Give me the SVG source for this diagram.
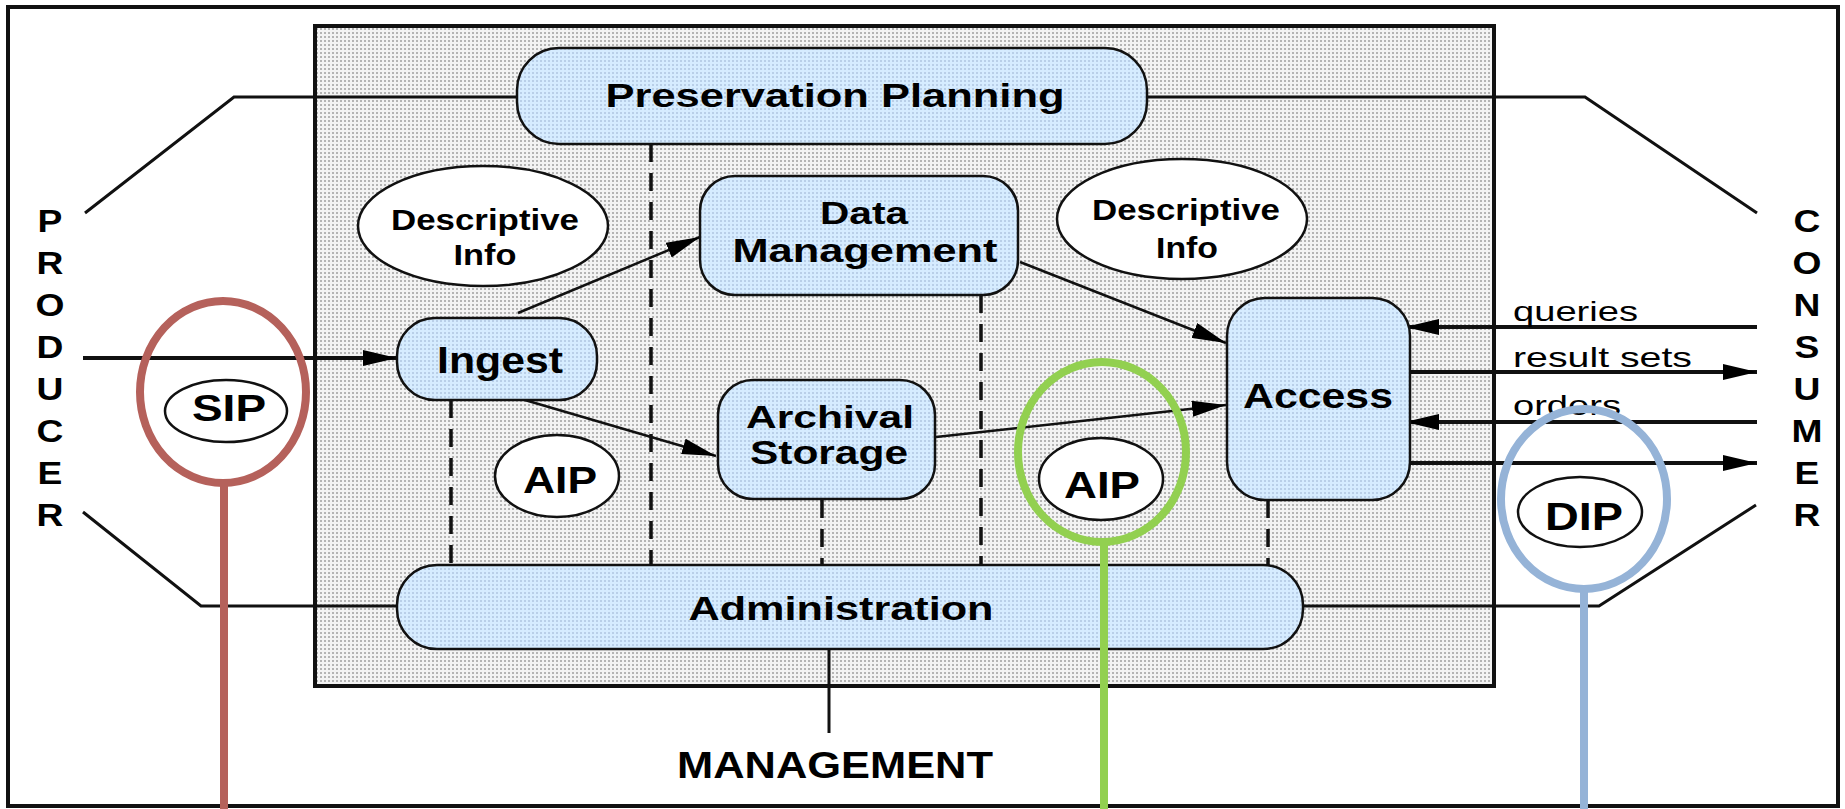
<svg xmlns="http://www.w3.org/2000/svg" width="1845" height="809" viewBox="0 0 1845 809">
  <defs>
    <pattern id="dots" width="4" height="4" patternUnits="userSpaceOnUse">
      <rect width="4" height="4" fill="#f3f3f3"/>
      <rect width="2" height="2" fill="#b4b4b4"/>
    </pattern>
    <pattern id="bdots" width="4" height="4" patternUnits="userSpaceOnUse">
      <rect width="4" height="4" fill="#d6ecff"/>
      <rect width="2" height="2" fill="#b9cfe8"/>
    </pattern>
    <marker id="ah" markerUnits="userSpaceOnUse" markerWidth="34" markerHeight="16" refX="34" refY="8" orient="auto" viewBox="0 0 34 16">
      <path d="M0,0 L34,8 L0,16 z" fill="#000"/>
    </marker>
    <style>
      text { font-family: "Liberation Sans", Arial, Helvetica, sans-serif; fill: #000; }
      .b { font-weight: bold; text-anchor: middle; }
      .lbl { font-weight: normal; font-size: 28px; }
      .side { font-weight: bold; font-size: 31px; text-anchor: middle; }
      .box { fill: url(#bdots); stroke: #111; stroke-width: 2.5; }
      .ell { fill: #fff; stroke: #111; stroke-width: 2.5; }
      .ln { fill: none; stroke: #111; stroke-width: 3; }
      .dash { fill: none; stroke: #111; stroke-width: 3.5; stroke-dasharray: 18 11; }
      .arr { fill: none; stroke: #111; stroke-width: 2.5; marker-end: url(#ah); }
      .arr4 { fill: none; stroke: #111; stroke-width: 4; marker-end: url(#ah); }
      .ring { fill: none; stroke-width: 8; }
    </style>
  </defs>

  <rect x="0" y="0" width="1845" height="809" fill="#fff"/>
  <rect id="frame" x="8" y="7" width="1830" height="799" fill="none" stroke="#111" stroke-width="4"/>
  <rect id="archive" x="315" y="26" width="1179" height="660" fill="url(#dots)" stroke="#111" stroke-width="4"/>

  <g id="connectors">
    <polyline class="ln" points="85,213 234,97 517,97"/>
    <polyline class="ln" points="1147,97 1585,97 1757,213"/>
    <polyline class="ln" points="83,512 201,606 397,606"/>
    <polyline class="ln" points="1303,606 1599,606 1756,505"/>
    <line class="ln" x1="829" y1="649" x2="829" y2="733" stroke-width="3.5"/>
    <line class="dash" x1="451" y1="400" x2="451" y2="565"/>
    <line class="dash" x1="651" y1="144" x2="651" y2="565"/>
    <line class="dash" x1="822" y1="500" x2="822" y2="565"/>
    <line class="dash" x1="981" y1="295" x2="981" y2="565"/>
    <line class="dash" x1="1268" y1="500" x2="1268" y2="565"/>
    <line class="arr4" x1="83" y1="358" x2="397" y2="358"/>
    <line class="arr" x1="518" y1="313" x2="700" y2="237"/>
    <line class="arr" x1="518" y1="398" x2="716" y2="456"/>
    <line class="arr" x1="1020" y1="262" x2="1226" y2="343"/>
    <line class="arr" x1="936" y1="437" x2="1226" y2="405"/>
    <line class="arr4" x1="1757" y1="327" x2="1405" y2="327"/>
    <line class="arr4" x1="1410" y1="372" x2="1757" y2="372"/>
    <line class="arr4" x1="1757" y1="422" x2="1405" y2="422"/>
    <line class="arr4" x1="1410" y1="463" x2="1757" y2="463"/>
  </g>

  <g id="preservation-planning">
    <rect class="box" x="517" y="48" width="630" height="96" rx="42" ry="42"/>
    <text class="b" x="835" y="107" font-size="34" textLength="459" lengthAdjust="spacingAndGlyphs">Preservation Planning</text>
  </g>
  <g id="data-management">
    <rect class="box" x="700" y="176" width="318" height="119" rx="35" ry="35"/>
    <text class="b" x="864" y="224" font-size="31" textLength="88" lengthAdjust="spacingAndGlyphs">Data</text>
    <text class="b" x="865" y="262" font-size="33" textLength="265" lengthAdjust="spacingAndGlyphs">Management</text>
  </g>
  <g id="ingest">
    <rect class="box" x="397" y="318" width="200" height="82" rx="38" ry="38"/>
    <text class="b" x="500" y="373" font-size="37" textLength="126" lengthAdjust="spacingAndGlyphs">Ingest</text>
  </g>
  <g id="archival-storage">
    <rect class="box" x="718" y="380" width="217" height="119" rx="35" ry="35"/>
    <text class="b" x="830" y="428" font-size="32" textLength="168" lengthAdjust="spacingAndGlyphs">Archival</text>
    <text class="b" x="829" y="464" font-size="33" textLength="158" lengthAdjust="spacingAndGlyphs">Storage</text>
  </g>
  <g id="access">
    <rect class="box" x="1227" y="298" width="183" height="202" rx="38" ry="38"/>
    <text class="b" x="1318" y="408" font-size="35" textLength="150" lengthAdjust="spacingAndGlyphs">Access</text>
  </g>
  <g id="administration">
    <rect class="box" x="397" y="565" width="906" height="84" rx="40" ry="40"/>
    <text class="b" x="841" y="620" font-size="34" textLength="305" lengthAdjust="spacingAndGlyphs">Administration</text>
  </g>

  <g id="descriptive-info-left">
    <ellipse class="ell" cx="483" cy="226" rx="125" ry="60"/>
    <text class="b" x="485" y="230" font-size="30" textLength="188" lengthAdjust="spacingAndGlyphs">Descriptive</text>
    <text class="b" x="485" y="265" font-size="30" textLength="63" lengthAdjust="spacingAndGlyphs">Info</text>
  </g>
  <g id="descriptive-info-right">
    <ellipse class="ell" cx="1182" cy="219" rx="125" ry="60"/>
    <text class="b" x="1186" y="220" font-size="30" textLength="188" lengthAdjust="spacingAndGlyphs">Descriptive</text>
    <text class="b" x="1187" y="258" font-size="30" textLength="62" lengthAdjust="spacingAndGlyphs">Info</text>
  </g>
  <g id="sip">
    <ellipse class="ell" cx="226" cy="411" rx="61" ry="31"/>
    <text class="b" x="229" y="421" font-size="37" textLength="74" lengthAdjust="spacingAndGlyphs">SIP</text>
  </g>
  <g id="aip-left">
    <ellipse class="ell" cx="557" cy="476" rx="62" ry="41"/>
    <text class="b" x="560" y="493" font-size="37" textLength="74" lengthAdjust="spacingAndGlyphs">AIP</text>
  </g>
  <g id="aip-right">
    <ellipse class="ell" cx="1101" cy="479" rx="62" ry="41"/>
    <text class="b" x="1102" y="498" font-size="37" textLength="76" lengthAdjust="spacingAndGlyphs">AIP</text>
  </g>
  <g id="dip">
    <ellipse class="ell" cx="1580" cy="512" rx="62" ry="35"/>
    <text class="b" x="1584" y="530" font-size="38" textLength="78" lengthAdjust="spacingAndGlyphs">DIP</text>
  </g>

  <g id="labels">
    <text class="lbl" x="1513" y="321" textLength="125" lengthAdjust="spacingAndGlyphs">queries</text>
    <text class="lbl" x="1513" y="367" textLength="179" lengthAdjust="spacingAndGlyphs">result sets</text>
    <text class="lbl" x="1513" y="415" textLength="108" lengthAdjust="spacingAndGlyphs">orders</text>
    <text class="b" x="835" y="778" font-size="36" textLength="316" lengthAdjust="spacingAndGlyphs">MANAGEMENT</text>
  </g>

  <g id="producer" transform="translate(50,0) scale(1.2,1)">
    <text class="side" x="0" y="232">P</text>
    <text class="side" x="0" y="274">R</text>
    <text class="side" x="0" y="316">O</text>
    <text class="side" x="0" y="358">D</text>
    <text class="side" x="0" y="400">U</text>
    <text class="side" x="0" y="442">C</text>
    <text class="side" x="0" y="484">E</text>
    <text class="side" x="0" y="526">R</text>
  </g>
  <g id="consumer" transform="translate(1807,0) scale(1.2,1)">
    <text class="side" x="0" y="232">C</text>
    <text class="side" x="0" y="274">O</text>
    <text class="side" x="0" y="316">N</text>
    <text class="side" x="0" y="358">S</text>
    <text class="side" x="0" y="400">U</text>
    <text class="side" x="0" y="442">M</text>
    <text class="side" x="0" y="484">E</text>
    <text class="side" x="0" y="526">R</text>
  </g>

  <g id="sip-highlight">
    <ellipse class="ring" cx="223" cy="392" rx="83" ry="91" stroke="#b5615b"/>
    <line x1="224" y1="483" x2="224" y2="809" stroke="#b5615b" stroke-width="8"/>
  </g>
  <g id="aip-highlight">
    <ellipse class="ring" cx="1102" cy="452" rx="84" ry="90" stroke="#92d050"/>
    <line x1="1104" y1="542" x2="1104" y2="809" stroke="#92d050" stroke-width="8"/>
  </g>
  <g id="dip-highlight">
    <ellipse class="ring" cx="1584" cy="499" rx="83" ry="90" stroke="#95b3d7"/>
    <line x1="1584" y1="589" x2="1584" y2="809" stroke="#95b3d7" stroke-width="8"/>
  </g>
</svg>
